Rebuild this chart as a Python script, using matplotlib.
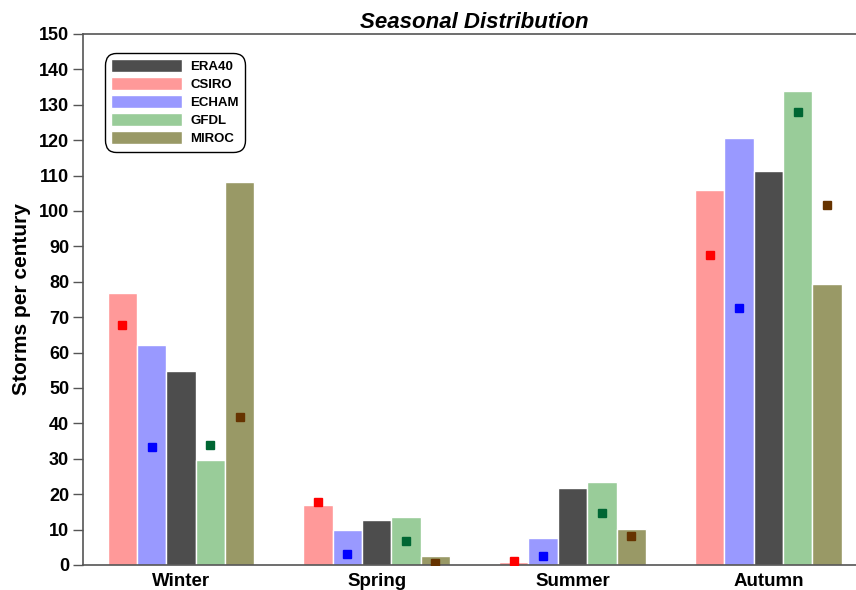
import numpy as np
import matplotlib
matplotlib.use('Agg')
import matplotlib.pyplot as plt

plt.rcParams['font.family'] = ['Liberation Sans', 'DejaVu Sans']

seasons = ['Winter', 'Spring', 'Summer', 'Autumn']
models = ['CSIRO', 'ECHAM', 'ERA40', 'GFDL', 'MIROC']

# bar heights
csiro = [76.7, 17.0, 0.9, 105.8]
echam = [62.2, 9.9, 7.6, 120.5]
era40 = [54.9, 12.7, 21.8, 111.2]
gfdl = [29.7, 13.6, 23.5, 133.8]
miroc = [108.3, 2.5, 10.2, 79.5]

# square markers (no marker for ERA40)
csiro_pt = [67.7, 17.9, 1.2, 87.5]
echam_pt = [33.4, 3.1, 2.5, 72.7]
gfdl_pt = [33.9, 6.9, 14.8, 128.1]
miroc_pt = [41.9, 0.5, 8.3, 101.6]

bars = [csiro, echam, era40, gfdl, miroc]
points = [csiro_pt, echam_pt, None, gfdl_pt, miroc_pt]
bar_colors = ['#ff9999', '#9999ff', '#4d4d4d', '#99cc99', '#999966']
pt_colors = ['#ff0000', '#0000ff', None, '#006633', '#663300']

fig = plt.figure(figsize=(8.56, 5.9), dpi=100)
ax = fig.add_axes([0.097, 0.0424, 0.915, 0.9])

x = np.arange(len(seasons))
w = 0.15
handles = {}
for i, name in enumerate(models):
    pos = x + (i - 2) * w
    b = ax.bar(pos, bars[i], w, color=bar_colors[i], edgecolor='white',
               linewidth=1, label=name, zorder=2)
    handles[name] = b
    if points[i] is not None:
        ax.plot(pos, points[i], 's', color=pt_colors[i], markersize=6,
                linestyle='none', zorder=3)

ax.set_xlim(-0.5, 3.5)
ax.set_ylim(0, 150)
ax.set_yticks(range(0, 151, 10))
ax.set_xticks(x)
ax.set_xticklabels(seasons)
ax.tick_params(axis='x', length=0, pad=6, labelsize=13.5)
ax.tick_params(axis='y', direction='out', length=7, width=1, color='#555555',
               labelsize=13, pad=3)
for lab in ax.get_xticklabels() + ax.get_yticklabels():
    lab.set_fontweight('bold')
for s in ['left', 'top', 'bottom']:
    ax.spines[s].set_color('#555555')
    ax.spines[s].set_linewidth(1.2)
ax.spines['right'].set_visible(False)

ax.set_ylabel('Storms per century', fontsize=15, fontweight='bold', labelpad=6)
ax.set_title('Seasonal Distribution', fontsize=16, fontweight='bold',
             style='italic', pad=4)

order = ['ERA40', 'CSIRO', 'ECHAM', 'GFDL', 'MIROC']
leg = ax.legend([handles[n] for n in order], order, loc='upper left',
                bbox_to_anchor=(0.019, 0.977), handlelength=5.4,
                handleheight=1.15, prop={'weight': 'bold', 'size': 9.5},
                frameon=True, fancybox=True, framealpha=1,
                edgecolor='black', labelspacing=0.3, borderpad=0.5,
                handletextpad=0.6)
leg.get_frame().set_linewidth(1)
leg.get_frame().set_boxstyle('round,pad=0,rounding_size=0.9')

fig.savefig('out.png', dpi=100)
